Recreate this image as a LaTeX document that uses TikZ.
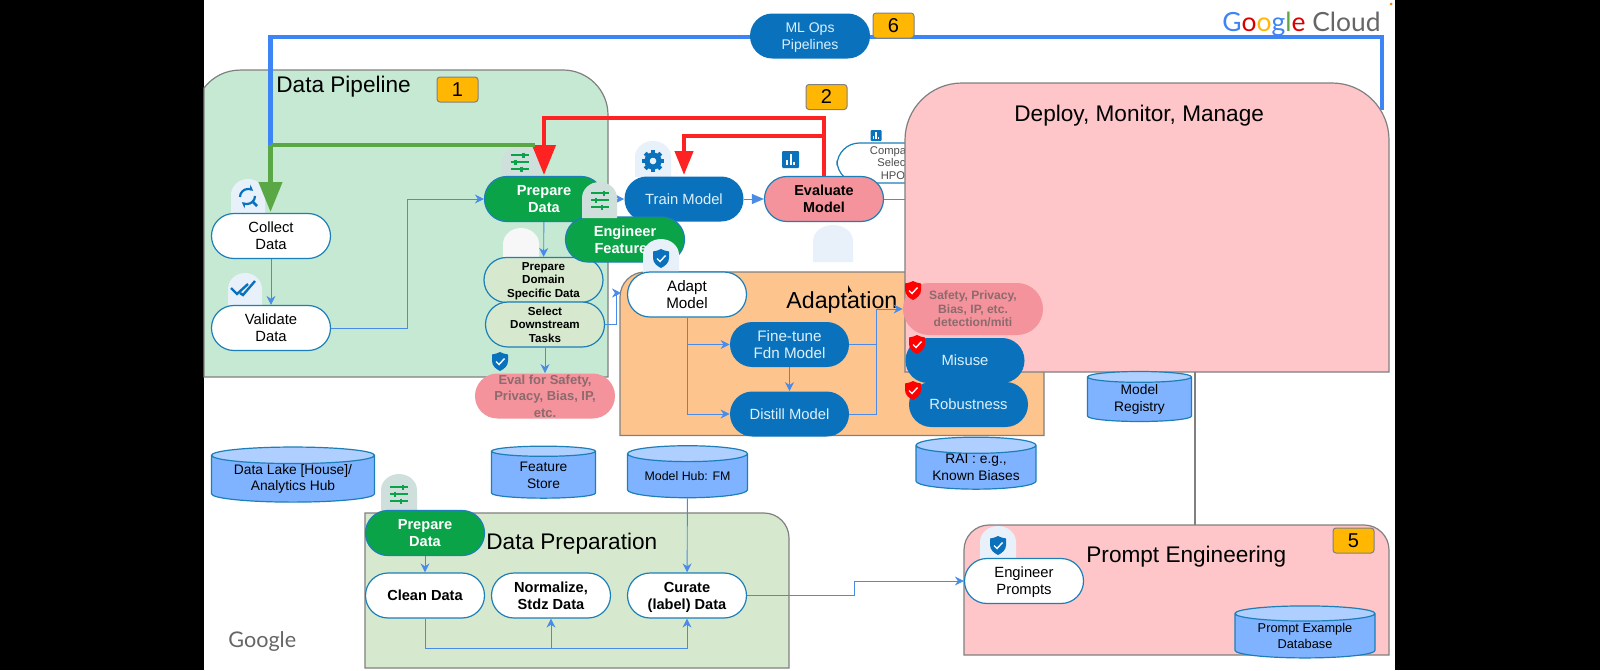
\documentclass[tikz,border=0pt]{standalone}
\usepackage{fontspec}
\setmainfont{Liberation Sans}
\newfontfamily\logofont{Lato}
\usetikzlibrary{arrows.meta,shapes.geometric}

\definecolor{pillblue}{HTML}{0A72BC}
\definecolor{pilledge}{HTML}{1C7FB8}
\definecolor{pillgreen}{HTML}{0BA347}
\definecolor{flowblue}{HTML}{4A8BE8}
\definecolor{pipeblue}{HTML}{3D85F5}
\definecolor{pipegreen}{HTML}{5AA845}
\definecolor{piperred}{HTML}{FF2222}
\definecolor{rosefill}{HTML}{F4939B}
\definecolor{panelrose}{HTML}{FEC6C9}
\definecolor{panelmint}{HTML}{C5E9D2}
\definecolor{panelsage}{HTML}{D6E9CE}
\definecolor{panelorange}{HTML}{FDC48D}
\definecolor{paneledge}{HTML}{808080}
\definecolor{badgeamber}{HTML}{FFB703}
\definecolor{storebody}{HTML}{7FB3FF}
\definecolor{storetop}{HTML}{AECFFF}
\definecolor{tabblue}{HTML}{E8F0FA}
\definecolor{tabgreen}{HTML}{CFE0DC}
\definecolor{evalgray}{HTML}{8C6A6E}
\definecolor{paleink}{HTML}{DDF0FA}

\tikzset{
	pill/.style={rectangle,rounded corners=11.2pt,minimum width=59.5pt,minimum height=22.5pt,inner sep=0pt,align=center,text depth=0pt,font=\fontsize{7.4}{8.6}\selectfont},
	whitepill/.style={pill,fill=white,draw=pilledge,line width=0.6pt},
	bluepill/.style={pill,fill=pillblue,text=paleink},
	greenpill/.style={pill,fill=pillgreen,draw=pilledge,line width=0.6pt,text=white,font=\fontsize{7.3}{8.6}\selectfont\bfseries},
	sagepill/.style={whitepill,fill=panelsage,font=\fontsize{5.8}{6.8}\selectfont\bfseries},
	rosepill/.style={pill,fill=rosefill,text=evalgray,font=\fontsize{6.05}{6.8}\selectfont\bfseries},
	store/.style={cylinder,shape border rotate=90,cylinder uses custom fill,cylinder body fill=storebody,cylinder end fill=storetop,draw=pilledge,line width=0.6pt,inner sep=0pt,align=center,font=\fontsize{6.9}{8.4}\selectfont},
	badge/.style={rectangle,rounded corners=1.5pt,fill=badgeamber,draw=paneledge,line width=0.5pt,minimum width=20.5pt,minimum height=12.5pt,inner sep=0pt,font=\fontsize{10}{10}\selectfont},
	paneltitle/.style={inner sep=0pt,font=\fontsize{11.3}{13}\selectfont},
	panel/.style={draw=paneledge,line width=0.6pt},
	flow/.style={draw=flowblue,line width=0.45pt,-{Stealth[length=4.5pt,width=4.5pt]}},
	flowplain/.style={draw=flowblue,line width=0.45pt},
	bigflow/.style={line width=2.1pt,-{Triangle[length=15pt,width=11.5pt]}},
}

% tab with a rounded top, stands behind a pill
\newcommand{\icontab}[5]{\fill[#5] (#1,#4) -- (#1,#2+16) arc[start angle=180,end angle=360,x radius=(#3-#1)/2,y radius=16] -- (#3,#4) -- cycle;}
\newcommand{\shieldmark}[4]{
	\fill[#3] (#1,#2-9) .. controls (#1+4,#2-7) and (#1+6,#2-7) .. (#1+8,#2-6.5) -- (#1+8,#2) .. controls (#1+8,#2+5) and (#1+4,#2+8) .. (#1,#2+10) .. controls (#1-4,#2+8) and (#1-8,#2+5) .. (#1-8,#2) -- (#1-8,#2-6.5) .. controls (#1-6,#2-7) and (#1-4,#2-7) .. cycle;
	\draw[#4,line width=0.7pt] (#1-4,#2+0.5) -- (#1-1,#2+3.5) -- (#1+4.5,#2-2.5);
}
\newcommand{\sliderset}[3]{
	\foreach \row/\mark in {-7/4,0/-4,7/2}{
		\draw[#3,line width=0.7pt] (#1-9,#2+\row) -- (#1+9,#2+\row);
		\draw[#3,line width=1.1pt] (#1+\mark,#2+\row-2.5) -- (#1+\mark,#2+\row+2.5);
	}
}
\newcommand{\barsmark}[3]{
	\fill[pillblue,rounded corners=0.5pt] (#1-#3,#2-#3) rectangle (#1+#3,#2+#3);
	\fill[white] (#1-0.5*#3,#2+0.6*#3) rectangle ++(0.22*#3,-0.5*#3);
	\fill[white] (#1-0.1*#3,#2+0.6*#3) rectangle ++(0.22*#3,-1.2*#3);
	\fill[white] (#1+0.35*#3,#2+0.6*#3) rectangle ++(0.22*#3,-0.25*#3);
}

\begin{document}
\begin{tikzpicture}[x=0.5pt,y=-0.5pt]
	\useasboundingbox (0,0) rectangle (1600,670);
	\fill[black] (0,0) rectangle (1600,670);
	\fill[white] (204,0) rectangle (1395,670);
	\fill[orange] (1391,4) circle (1.5);

	% panels
	\path[panel,fill=panelmint] (204,377) -- (204,88) arc[start angle=217,end angle=270,radius=45] -- (563,70) arc[start angle=270,end angle=360,radius=45] -- (608,377) -- cycle;
	\node[paneltitle,anchor=base west] (pipetitle) at (276,92) {Data Pipeline};
	\node[badge] (badgeone) at (457.5,89.5) {1};
	\node[badge] (badgetwo) at (826.5,97) {2};

	% long pipeline on top
	\coordinate (deploytop) at (1382,110);
	\coordinate (pipecorner) at (270.5,145);
	\draw[pipeblue,line width=2.1pt] (pipecorner) -- (270.5,37) -- (1382,37) -- (deploytop);
	\node[bluepill,minimum width=60pt,font=\fontsize{7}{8.5}\selectfont] (mlops) at (810,36) {ML Ops\\Pipelines};
	\node[badge] (badgesix) at (893.5,25.5) {6};
	\node[inner sep=0pt,anchor=base east,font=\logofont\fontsize{13.2}{16}\selectfont] (cloudlogo) at (1381,31) {\textcolor{pipeblue}{G}\textcolor{red!85!black}{o}\textcolor{badgeamber}{o}\textcolor{pipeblue}{g}\textcolor{pipegreen}{l}\textcolor{red!85!black}{e} \textcolor{black!60}{Cloud}};

	% tabs above the pills
	\icontab{231}{179}{265}{214}{tabblue}
	\icontab{228}{273}{262}{306}{tabblue}
	\icontab{502}{146}{540}{177}{tabgreen}
	\icontab{635}{141}{671}{177}{tabblue}
	\icontab{503}{228}{539}{258}{black!3}
	\icontab{813}{225}{853}{262}{tabblue}
	\icontab{381}{474}{417}{511}{tabgreen}

	% feedback lines
	\node[bluepill] (trainmodel) at (684,199) {Train Model};
	\node[whitepill,font=\fontsize{5.6}{6.4}\selectfont,text=black!70,minimum width=56pt,minimum height=20pt] (compareselect) at (893,163) {Compare\\Select\\HPO};
	\barsmark{876}{135.5}{5.5}
	\node[whitepill] (collect) at (271,236) {Collect\\Data};
	\node[whitepill] (validate) at (271,328) {Validate\\Data};
	\node[greenpill] (prepdata) at (544,199) {Prepare\\Data};
	\node[pill,fill=rosefill,draw=pilledge,line width=0.6pt,font=\fontsize{7.2}{8.6}\selectfont\bfseries] (evaluate) at (824,199) {Evaluate\\Model};
	\node[sagepill] (domain) at (543.5,280) {Prepare\\Domain\\Specific Data};
	\node[sagepill] (downstream) at (545,324.5) {Select\\Downstream\\Tasks};
	\node[rosepill,minimum width=70pt,font=\fontsize{6.5}{8.15}\selectfont\bfseries] (evalsafety) at (545,396) {Eval for Safety,\\Privacy, Bias, IP,\\etc.};

	\path[panel,fill=panelorange] (620,435.5) -- (620,297) arc[start angle=180,end angle=270,radius=25] -- (1019,272) arc[start angle=270,end angle=360,radius=25] -- (1044,435.5) -- cycle;
	\node[paneltitle,font=\fontsize{11.6}{13}\selectfont,anchor=base west] (adapttitle) at (786,308) {Adaptation};

	\draw[flow] (collect) -- (validate);
	\draw[flow] (validate.east) -- (407,328) |- (prepdata.west);
	\draw[flow] (prepdata.east) -- (trainmodel.west);
	\draw[flow,-{Triangle[length=6pt,width=5pt]}] (trainmodel) -- (evaluate);
	\draw[flowplain] (evaluate.east) -- (905,199);
	\draw[flow] (prepdata) -- (domain);
	\draw[flow] (downstream) -- (evalsafety);
	\draw[flow] (downstream.east) -- (616,324.5) |- (621,293);

	\node[greenpill] (engineer) at (625,239.5) {Engineer\\Features};
	\icontab{582}{182}{617}{218}{tabgreen}
	\icontab{643}{239}{679}{273}{tabblue}

	% deployment panel
	\path[panel,fill=panelrose] (905,372) -- (905,140) arc[start angle=180,end angle=270,radius=57] -- (1332,83) arc[start angle=270,end angle=360,radius=57] -- (1389,372) -- cycle;
	\node[paneltitle,anchor=base west] (deploytitle) at (1014,121) {Deploy, Monitor, Manage};
	\coordinate (deploybase) at (1195,372);

	\draw[piperred,bigflow] (824,176) -- (824,118) -- (544,118) -- (544,175);
	\draw[pipegreen,line width=2.1pt] (pipecorner) -- (535,145);
	\draw[pipegreen,bigflow] (pipecorner) -- (270.5,212);
	\draw[piperred,bigflow,-{Triangle[length=12pt,width=9pt]}] (824,136) -- (684,136) -- (684,175);

	% adaptation steps
	\node[whitepill,font=\fontsize{7.6}{8.7}\selectfont] (adapt) at (687,294.5) {Adapt\\Model};
	\node[bluepill,font=\fontsize{7.6}{8.7}\selectfont] (finetune) at (789.5,344.5) {Fine-tune\\Fdn Model};
	\node[bluepill] (distill) at (789.5,414) {Distill Model};
	\node[rosepill,minimum width=70pt,minimum height=26pt,rounded corners=13pt] (safety) at (973,309) {Safety, Privacy,\\Bias, IP, etc.\\detection/miti};
	\node[bluepill] (misuse) at (965,360.5) {Misuse};
	\node[bluepill] (robust) at (968.5,404.5) {Robustness};

	\coordinate (mergeup) at (876,344.5);
	\draw[flow] (adapt.south) |- (finetune.west);
	\draw[flow] (adapt.south) |- (distill.west);
	\draw[flow] (finetune) -- (distill);
	\draw[flowplain] (finetune.east) -- (mergeup);
	\draw[flow] (distill.east) -| (mergeup) |- (safety.west);

	% data stores
	\node[store,aspect=0.14,minimum width=81.5pt,minimum height=26pt] (datalake) at (293,479) {Data Lake [House]/\\Analytics Hub};
	\node[store,aspect=0.214,minimum width=52pt,minimum height=26pt] (featstore) at (543.5,475) {Feature\\Store};
	\node[store,aspect=0.185,minimum width=60pt,minimum height=26pt,font=\fontsize{6.2}{7}\selectfont] (modelhub) at (687.5,476) {Model Hub: FM};
	\node[store,aspect=0.185,minimum width=60pt,minimum height=26pt] (raistore) at (976,467.5) {RAI : e.g.,\\Known Biases};
	\node[store,aspect=0.214,minimum width=52pt,minimum height=25pt] (registry) at (1139.5,399.5) {Model\\Registry};

	% data preparation
	\path[panel,fill=panelsage] (365,668) -- (365,513) -- (764,513) arc[start angle=270,end angle=360,radius=25] -- (789,668) -- cycle;
	\node[paneltitle,anchor=base west] (preptitle) at (486,549) {Data Preparation};
	\node[greenpill] (prepagain) at (425,533) {Prepare\\Data};
	\node[whitepill,font=\fontsize{7.3}{8.6}\selectfont\bfseries] (clean) at (425,595.5) {Clean Data};
	\node[whitepill,font=\fontsize{7.3}{8.6}\selectfont\bfseries] (normalize) at (551,595.5) {Normalize,\\Stdz Data};
	\node[whitepill,font=\fontsize{7.3}{8.6}\selectfont\bfseries] (curate) at (687,595.5) {Curate\\(label) Data};
	\coordinate (cleanbus) at (551,648);

	\draw[flow] (prepagain) -- (clean);
	\draw[flow] (modelhub) -- (curate);
	\draw[flowplain] (clean.south) |- (cleanbus);
	\draw[flow] (cleanbus) -- (normalize.south);
	\draw[flow] (cleanbus) -| (curate.south);

	% prompt engineering
	\path[panel,fill=panelrose] (964,655) -- (964,550) arc[start angle=180,end angle=270,radius=25] -- (1364,525) arc[start angle=270,end angle=360,radius=25] -- (1389,655) -- cycle;
	\node[paneltitle,anchor=base west] (prompttitle) at (1086,562) {Prompt Engineering};
	\node[badge] (badgefive) at (1353.5,540.5) {5};
	\icontab{980}{526}{1016}{559}{tabblue}
	\node[whitepill] (prompts) at (1024,581) {Engineer\\Prompts};
	\node[store,aspect=0.16,minimum width=70pt,minimum height=26pt,font=\fontsize{6.4}{8}\selectfont] (examples) at (1305,636) {Prompt Example\\Database};
	\coordinate (prompttop) at (1195,525);
	\draw[paneledge,line width=0.6pt] (deploybase) -- (prompttop);
	\draw[flow] (curate.east) -- (854,595.5) |- (prompts.west);

	% icons
	\sliderset{519.5}{162}{pillgreen}
	\sliderset{600}{200}{pillgreen}
	\sliderset{399}{494}{pillgreen}
	\barsmark{790.5}{159.5}{8.5}
	\shieldmark{661}{258}{pillblue}{white}
	\shieldmark{500}{361}{pillblue}{white}
	\shieldmark{998}{545}{pillblue}{white}
	\shieldmark{913}{290}{red}{white}
	\shieldmark{917}{344}{red}{white}
	\shieldmark{913}{390}{red}{white}
	% gear
	\foreach \ang in {0,45,...,315}{\draw[pillblue,line width=2pt] (653,161) ++(\ang:7) -- ++(\ang:4);}
	\draw[pillblue,line width=2.6pt] (653,161) circle (6);
	% sync search
	\draw[pillblue,line width=1.1pt,-{Stealth[length=3pt,width=3pt]}] (240,197) arc[start angle=180,end angle=310,radius=8];
	\draw[pillblue,line width=1.1pt,-{Stealth[length=3pt,width=3pt]}] (255,196) arc[start angle=0,end angle=130,radius=8];
	\draw[pillblue,line width=1.4pt] (252,201) -- (257,206);
	% double check
	\draw[pillblue,line width=1.2pt] (231,288) -- (237,294) -- (248,284);
	\draw[pillblue,line width=1.2pt] (240,293) -- (243,295) -- (255,281);
	% pointer
	\fill[black] (848,285) -- (848,293) -- (850,291) -- (852,292) -- cycle;

	\node[inner sep=0pt,anchor=base west,text=black!60,font=\logofont\fontsize{10.8}{12}\selectfont] (googlelogo) at (228,647) {Google};
\end{tikzpicture}
\end{document}
